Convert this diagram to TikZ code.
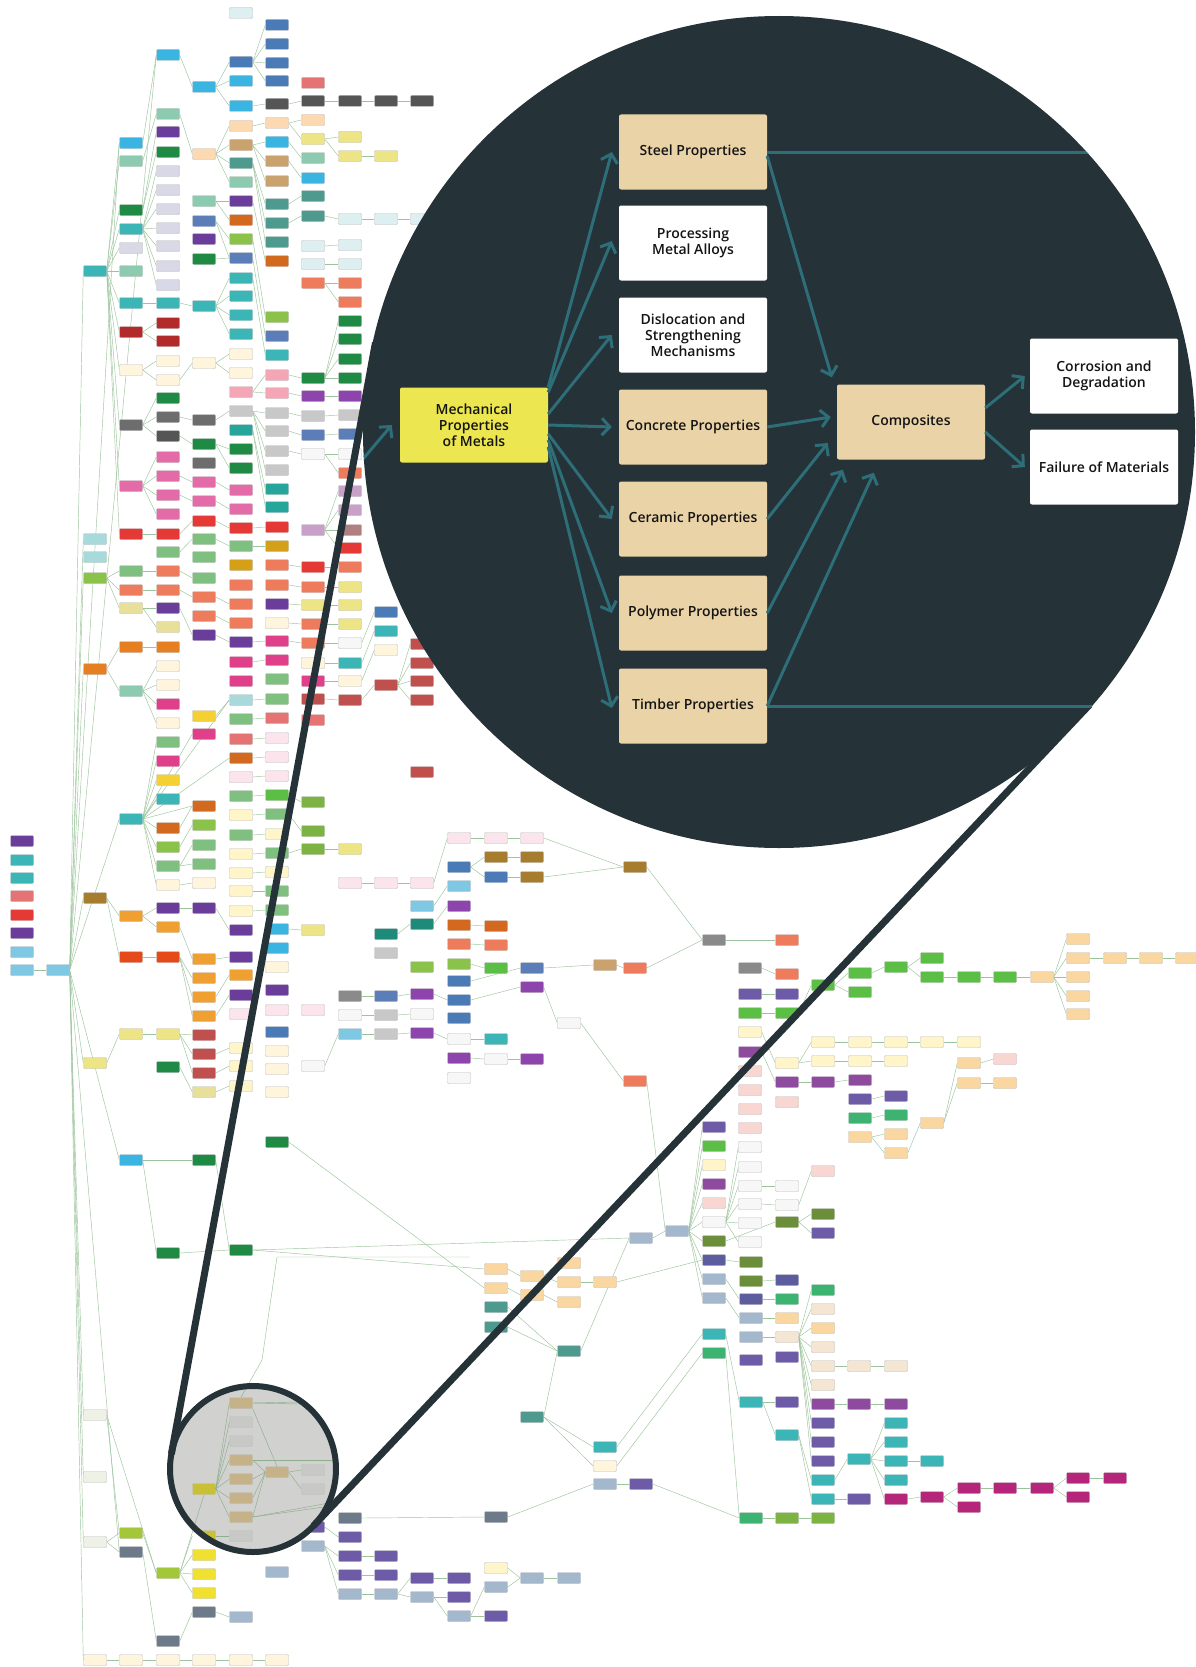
\documentclass[tikz,border=0pt]{standalone}
\usepackage{fontspec}
\setmainfont{Open Sans}
\IfFontExistsTF{Open Sans SemiBold}{\newfontfamily\boxfont{Open Sans SemiBold}}{%
 \IfFontExistsTF{Open Sans Semibold}{\newfontfamily\boxfont{Open Sans Semibold}}{%
  \newfontfamily\boxfont{Open Sans}[FakeBold=2.5]}}
\usetikzlibrary{arrows.meta}
\pgfdeclarelayer{bgl}
\pgfsetlayers{bgl,main}
\definecolor{cteal}{HTML}{3BB5B5}\definecolor{cteal2}{HTML}{26A69A}\definecolor{ccyan}{HTML}{3AB4E0}
\definecolor{cmint}{HTML}{8CCBB0}\definecolor{cdgreen}{HTML}{1E8A44}\definecolor{clav}{HTML}{D8D8E6}
\definecolor{cdred}{HTML}{B22A2A}\definecolor{ccream}{HTML}{FFF5DC}\definecolor{cgray}{HTML}{6D6D6D}
\definecolor{cdgray}{HTML}{555555}\definecolor{cpink}{HTML}{E36BA8}\definecolor{cred}{HTML}{E53935}
\definecolor{cpurple}{HTML}{6A3D9A}\definecolor{cpeach}{HTML}{FCD9B0}\definecolor{cslate}{HTML}{5B7DB8}
\definecolor{cltcyan}{HTML}{DDEFF0}\definecolor{cblue}{HTML}{4A7BB7}\definecolor{ctan}{HTML}{C9A26E}
\definecolor{ctgray}{HTML}{4E9A8E}\definecolor{cobrown}{HTML}{D2691E}\definecolor{clime}{HTML}{8BC34A}
\definecolor{cltpink}{HTML}{F4A6B6}\definecolor{clgray}{HTML}{C8C8C8}\definecolor{cylight}{HTML}{EDE585}
\definecolor{csalmon}{HTML}{EE7B5C}\definecolor{cmagenta}{HTML}{8E44AD}\definecolor{cwhite}{HTML}{F7F7F7}
\definecolor{cmauve}{HTML}{C9A0C8}\definecolor{crbrown}{HTML}{B07F7F}\definecolor{cgoldr}{HTML}{D4A017}
\definecolor{cmgreen}{HTML}{7FBF7F}\definecolor{cltteal}{HTML}{A8DADC}\definecolor{corange}{HTML}{E67E22}
\definecolor{cbgold}{HTML}{A67C2E}\definecolor{ckhaki}{HTML}{E8E09A}\definecolor{cmpink}{HTML}{E0408A}
\definecolor{cyellow}{HTML}{F5D033}\definecolor{cltblue}{HTML}{7EC8E3}\definecolor{cltpinkb}{HTML}{FCE4EC}
\definecolor{cycream}{HTML}{FFF5C8}\definecolor{cgmed}{HTML}{7CB342}\definecolor{csalmb}{HTML}{E57373}
\definecolor{crose}{HTML}{C0504D}\definecolor{corangeb}{HTML}{F0A030}\definecolor{credor}{HTML}{E64A19}
\definecolor{ctdark}{HTML}{1E8A7A}\definecolor{cgrayb}{HTML}{8A8A8A}\definecolor{cltgg}{HTML}{EEF2E6}
\definecolor{climeb}{HTML}{A4C639}\definecolor{csgray}{HTML}{6C7A89}\definecolor{cyelb}{HTML}{F0E130}
\definecolor{clsteel}{HTML}{A3B8CC}\definecolor{cpurpb}{HTML}{6E5BA8}\definecolor{cpslate}{HTML}{5C5C9E}
\definecolor{clpeach}{HTML}{FAD7A0}\definecolor{ccreamb}{HTML}{F5E6D3}\definecolor{cgteal}{HTML}{3CB371}
\definecolor{colive}{HTML}{6B8E3A}\definecolor{cmpurp}{HTML}{8E4A9E}\definecolor{cmagenb}{HTML}{B5267A}
\definecolor{cbgreen}{HTML}{5BBF45}\definecolor{cpinkl}{HTML}{F8D7D3}
\definecolor{edgec}{HTML}{9CC49C}\definecolor{nodeborder}{HTML}{BDBDBD}\definecolor{circdark}{HTML}{253238}
\definecolor{arrteal}{HTML}{2D6E79}\definecolor{btan}{HTML}{EBD3A8}\definecolor{byel}{HTML}{ECE651}
\definecolor{stan}{HTML}{C6B289}\definecolor{sgrayc}{HTML}{C8C8C6}\definecolor{syel}{HTML}{C9C037}
\definecolor{sdisc}{HTML}{D1D1CF}\definecolor{sedgec}{HTML}{8EAE8E}
\tikzset{
 bgn/.style={rectangle, rounded corners=1pt, minimum width=23pt, minimum height=11pt, inner sep=0pt, draw=nodeborder, line width=0.4pt},
 bge/.style={draw=edgec, line width=0.45pt},
 snode/.style={bgn, draw=black!25},
 sedge/.style={draw=sedgec, line width=0.45pt},
 bigbox/.style={rectangle, rounded corners=2pt, minimum width=148pt, minimum height=75pt, inner sep=2pt, align=center, font=\boxfont\fontsize{14}{16}\selectfont, text=black!92},
 zarr/.style={draw=arrteal, line width=3pt, -{Straight Barb[length=8pt,width=17pt]}},
 zline/.style={draw=arrteal, line width=3pt},
 magline/.style={draw=circdark, line width=7pt},
 ring/.style={draw=circdark, line width=6pt},
}
\newcommand\bgset[2]{\foreach \x/\y in {#2}{\node[bgn,fill=#1] (n\x-\y) at (\x,\y) {};}}
\newcommand\bgfan[2]{\foreach \t in {#2}{\draw[bge] (n#1.east) -- (n\t.west);}}
\begin{document}
\begin{tikzpicture}[x=1pt,y=-1pt]
\useasboundingbox (0,0) rectangle (1195,1667);
% ---------------- background nodes ----------------
\bgset{cteal}{95/271,131/229,131/303,168/303,204/306,241/278,241/296,241/315,241/334,277/355,22/860,22/878,168/799,131/819,350/663,386/631,496/1039,605/1447,714/1334,751/1402,787/1435,823/1480,823/1499,859/1459,896/1423,896/1442,896/1461,932/1461,896/1480}
\bgset{cteal2}{241/430,277/489,277/507}
\bgset{ccyan}{131/143,168/55,204/87,241/81,241/106,277/142,313/178,277/929,277/948,131/1160}
\bgset{cmint}{131/161,131/271,168/114,204/201,241/182,313/158,131/691}
\bgset{cdgreen}{131/210,168/152,168/398,204/259,204/444,241/449,241/468,313/378,350/321,350/339,350/359,350/378,168/1067,168/1253,204/1160,241/1250,277/1142}
\bgset{clav}{131/248,168/171,168/190,168/209,168/228,168/246,168/266,168/285}
\bgset{cdred}{131/332,168/323,168/341}
\bgset{ccream}{131/370,168/361,168/380,204/363,241/354,241/373,168/666,168/685,168/723,168/885,204/883,277/623,313/663,350/681,386/650,277/967,277/1051,277/1069,277/1092,95/1660,131/1660,168/1660,204/1660,241/1660,277/1660,605/1466}
\bgset{cgray}{131/425,168/417,204/420,204/463}
\bgset{cdgray}{168/436,277/104,313/101,350/101,386/101,422/101}
\bgset{cpink}{131/486,168/457,168/476,168/495,168/514,204/482,204/501,241/490,241/509}
\bgset{cred}{131/534,168/534,204/521,241/528,277/527,350/548,313/567,22/915}
\bgset{cpurple}{168/132,204/239,241/201,168/608,204/635,241/642,277/604,168/908,204/908,241/930,241/957,241/995,277/990,22/841,22/933}
\bgset{cpeach}{204/154,241/126,277/123,313/120}
\bgset{cslate}{204/221,241/258,277/336,313/435,350/434,386/996,532/968}
\bgset{cltcyan}{241/13,313/246,313/264,350/219,350/245,350/264,386/219,422/219}
\bgset{cblue}{241/62,277/25,277/44,277/63,277/81,386/612,277/1032,459/867,496/877,459/981,459/1000,459/1018}
\bgset{ctan}{241/145,277/161,277/181,605/965}
\bgset{ctgray}{241/163,277/204,277/223,277/242,313/196,313/216,496/1307,496/1327,569/1351,532/1417}
\bgset{cobrown}{241/220,277/261,168/828,204/806,241/758,459/925,496/926}
\bgset{clime}{241/239,277/317,95/578,168/847,204/825,422/967,459/964}
\bgset{cltpink}{241/392,277/375,277/393}
\bgset{clgray}{241/411,277/413,277/431,277/451,277/470,313/416,350/415,386/953,386/1015,386/1034}
\bgset{cylight}{313/139,350/137,350/156,386/156,313/605,350/587,350/605,350/624,313/930,350/849,95/1063,131/1034,168/1034}
\bgset{csalmon}{313/283,350/283,350/302,350/473,131/590,168/571,168/590,204/597,204/616,241/585,241/604,241/623,277/565,277/585,313/587,313/624,313/643,350/567,459/944,496/945,635/968,635/1081,787/940,787/974}
\bgset{cmagenta}{313/396,350/396,422/994,422/1033,459/906,459/1058,532/987,532/1059}
\bgset{cwhite}{313/454,350/454,350/643,350/1015,313/1066,422/1014,459/1039,459/1078,496/1059,569/1023,750/1147,750/1167,750/1186,750/1204,750/1223,750/1242,787/1186,787/1205,714/1222}
\bgset{cmauve}{313/530,350/491,350/510}
\bgset{crbrown}{350/530}
\bgset{cgoldr}{277/546,241/565}
\bgset{cmgreen}{168/552,204/539,204/557,241/546,131/571,204/578,168/742,168/866,204/845,204/864,241/719,241/796,241/835,277/679,277/699,277/814,277/853,277/891,277/910}
\bgset{cltteal}{95/539,95/557,241/700}
\bgset{corange}{95/669,131/647,168/647}
\bgset{cbgold}{95/898,496/857,532/857,532/877,635/867}
\bgset{ckhaki}{131/608,168/627,204/1092}
\bgset{cmpink}{168/704,168/761,204/734,241/662,241/681,277/641,277/660,313/681}
\bgset{cyellow}{168/780,204/716}
\bgset{cltblue}{22/952,22/970,58/970,350/1034,422/906,459/886}
\bgset{cltpinkb}{241/777,241/1014,277/738,277/757,277/776,277/1010,313/1010,350/883,386/883,422/883,459/838,496/838,532/838}
\bgset{cycream}{241/815,241/854,241/873,241/891,241/911,241/1048,241/1066,241/1086,277/834,277/872,496/1568,750/1032,787/1063,823/1042,823/1061,860/1042,860/1061,896/1042,896/1061,932/1042,969/1042,714/1165}
\bgset{cgmed}{313/802,313/831,313/849,787/1518,823/1518}
\bgset{csalmb}{313/83,22/896,241/739,277/718,313/720}
\bgset{crose}{204/1035,204/1054,204/1073,313/699,350/700,386/685,422/644,422/663,422/681,422/700,422/772}
\bgset{corangeb}{131/916,168/927,204/959,204/978,204/997,204/1016,241/975}
\bgset{credor}{131/957,168/957}
\bgset{ctdark}{386/934,422/924}
\bgset{cgrayb}{350/996,714/940,750/968}
\bgset{cltgg}{95/1415,95/1477,95/1542}
\bgset{climeb}{131/1533,168/1573}
\bgset{csgray}{131/1552,168/1641,204/1612,350/1518,496/1517}
\bgset{cyelb}{204/1555,204/1574,204/1593}
\bgset{clsteel}{241/1617,277/1572,313/1546,350/1594,386/1594,422/1597,459/1616,496/1587,532/1578,569/1578,605/1484,641/1238,677/1231,714/1279,714/1298,751/1318,751/1337}
\bgset{cpurpb}{313/1527,350/1537,350/1556,350/1575,386/1556,386/1575,422/1578,459/1578,459/1597,496/1616,641/1484,751/1360,787/1357,787/1402,823/1423,823/1442,823/1461,859/1499,750/994,787/994,714/1127,860/1099,896/1096,823/1233}
\bgset{cpslate}{714/1260,751/1299,787/1280}
\bgset{clpeach}{496/1269,496/1288,532/1276,532/1295,569/1263,569/1282,569/1302,605/1282,787/1318,823/1328,1042/977,1078/939,1078/958,1115/958,1151/958,1187/958,1078/977,1078/996,1078/1014,969/1063,969/1083,1005/1083,860/1137,896/1134,896/1153,932/1123}
\bgset{ccreamb}{787/1337,823/1309,823/1347,823/1366,859/1366,896/1366,823/1385}
\bgset{cgteal}{714/1353,751/1518,787/1299,823/1290,860/1118,896/1115}
\bgset{colive}{751/1262,751/1281,714/1241,787/1222,823/1214}
\bgset{cmpurp}{823/1404,859/1404,896/1404,750/1052,787/1082,823/1082,860/1080,714/1184}
\bgset{cmagenb}{896/1499,932/1497,969/1488,969/1507,1005/1488,1042/1488,1078/1478,1078/1497,1115/1478}
\bgset{cbgreen}{750/1013,787/1013,823/985,860/973,860/992,896/967,932/958,932/977,969/977,1005/977,714/1146,496/968,277/795}
\bgset{cpinkl}{750/1071,750/1090,750/1109,750/1128,787/1102,823/1171,1005/1059,714/1203}
% ---------------- small circle (lens) ----------------
\coordinate (sc) at (253,1469);
\fill[sdisc] (sc) circle (83pt);
\begin{scope}
\clip (sc) circle (83pt);
\node[snode,fill=stan] (ssteel) at (241,1403) {};
\node[snode,fill=sgrayc] (sproc) at (241,1422) {};
\node[snode,fill=sgrayc] (sdisl) at (241,1441) {};
\node[snode,fill=stan] (sconc) at (241,1460) {};
\node[snode,fill=stan] (scer) at (241,1479) {};
\node[snode,fill=stan] (spoly) at (241,1498) {};
\node[snode,fill=stan] (stimb) at (241,1517) {};
\node[snode,fill=sgrayc] (sphase) at (241,1536) {};
\node[snode,fill=syel] (smech) at (204,1489) {};
\node[snode,fill=syel] (syelb) at (204,1536) {};
\node[snode,fill=stan] (scomp) at (277,1472) {};
\node[snode,fill=sgrayc] (scorr) at (313,1470) {};
\node[snode,fill=sgrayc] (sfail) at (313,1489) {};
\coordinate (sx1) at (345,1401);
\coordinate (sx2) at (345,1405);
\coordinate (sx3) at (345,1460);
\coordinate (sx4) at (345,1500);
\coordinate (sx5) at (345,1504);
\coordinate (stop) at (262,1360);
\foreach \t in {ssteel,sproc,sdisl,sconc,scer,spoly,stimb} {\draw[sedge] (smech.east) -- (\t.west);}
\draw[sedge] (ssteel.south east) -- (scomp.north);
\foreach \t in {sconc,scer,spoly,stimb} {\draw[sedge] (\t.east) -- (scomp.west);}
\draw[sedge] (scomp.east) -- (scorr.west);
\draw[sedge] (scomp.east) -- (sfail.west);
\draw[sedge] (ssteel.east) -- (sx1);
\draw[sedge] (ssteel.east) -- (sx2);
\draw[sedge] (sconc.east) -- (sx3);
\draw[sedge] (stimb.east) -- (sx4);
\draw[sedge] (stimb.east) -- (sx5);
\draw[sedge] (syelb.east) -- (sphase.west);
\draw[sedge] (stop) -- (ssteel.north);
\draw[sedge] (n168-1573.east) -- (smech.south);
\draw[sedge] (n168-1573.east) -- (syelb.west);
\end{scope}
\draw[ring] (sc) circle (83pt);
% ---------------- background connectors ----------------
\begin{pgfonlayer}{bgl}
\fill[white] (0,0) rectangle (1195,1667);
\bgfan{95-271}{131-143,131-161,131-210,131-229,131-248,131-271,131-303,131-332,131-370,131-425,131-486,131-534}
\bgfan{58-970}{95-271,95-539,95-578,95-669,95-898,95-1063,95-1415,95-1477,95-1542,95-1660,131-1160,131-819,131-143,131-1552,168-55}
\bgfan{22-970}{58-970}\bgfan{131-143}{168-55}\bgfan{168-55}{204-87}\bgfan{204-87}{241-62,241-81,241-106}
\bgfan{241-62}{277-25,277-44,277-63,277-81}\bgfan{131-161}{168-114}\bgfan{131-210}{168-132,168-152}
\bgfan{131-229}{168-171,168-190,168-209,168-228,168-246,168-266,168-285}\bgfan{131-303}{168-303}\bgfan{168-303}{204-306}
\bgfan{204-306}{241-278,241-296,241-315,241-334}\bgfan{131-332}{168-323,168-341}\bgfan{131-370}{168-361,168-380}
\bgfan{168-380}{204-363}\bgfan{204-363}{241-354,241-373}\bgfan{131-425}{168-398,168-417,168-436}\bgfan{168-417}{204-420}
\bgfan{168-436}{204-444}\bgfan{204-420}{241-411}\bgfan{204-444}{241-449,241-468}\bgfan{131-486}{168-457,168-476,168-495,168-514}
\bgfan{168-476}{204-482}\bgfan{168-495}{204-501}\bgfan{204-482}{241-490}\bgfan{204-501}{241-509}\bgfan{131-534}{168-534}
\bgfan{168-534}{204-521}\bgfan{204-521}{241-528}\bgfan{241-528}{277-527}\bgfan{168-552}{204-539}\bgfan{204-539}{241-546}\bgfan{241-546}{277-546}
\bgfan{168-114}{204-154}\bgfan{204-154}{241-126,241-145,241-163,241-182}\bgfan{241-106}{277-104}\bgfan{277-104}{313-101}
\bgfan{313-101}{350-101}\bgfan{350-101}{386-101}\bgfan{386-101}{422-101}\bgfan{241-126}{277-123}\bgfan{277-123}{313-120,313-139}
\bgfan{313-139}{350-137,350-156}\bgfan{350-156}{386-156}\bgfan{241-145}{277-142,277-161,277-181}\bgfan{241-163}{277-204,277-223,277-242}
\bgfan{277-142}{313-158}\bgfan{277-161}{313-178}\bgfan{277-204}{313-196}\bgfan{277-223}{313-216}\bgfan{313-216}{350-219}\bgfan{350-219}{386-219}
\bgfan{386-219}{422-219}\bgfan{313-246}{350-245}\bgfan{313-264}{350-264}\bgfan{313-283}{350-283,350-302}\bgfan{204-201}{241-201,241-220}
\bgfan{204-221}{241-239,241-258}\bgfan{204-259}{241-258}\bgfan{241-201}{277-261}\bgfan{241-239}{277-317}\bgfan{241-258}{277-336}
\bgfan{241-278}{277-355}\bgfan{241-392}{277-375,277-393}\bgfan{241-411}{277-413,277-431,277-451,277-470}\bgfan{241-430}{277-489,277-507}
\bgfan{277-375}{313-378}\bgfan{277-393}{313-396}\bgfan{313-396}{350-396}\bgfan{277-413}{313-416}\bgfan{313-416}{350-415}\bgfan{277-431}{313-435}
\bgfan{313-435}{350-434}\bgfan{277-451}{313-454}\bgfan{313-454}{350-454,350-473}\bgfan{313-378}{350-321,350-339,350-359,350-378}
\bgfan{313-530}{350-491,350-510,350-530,350-548}\bgfan{95-578}{131-571,131-590,131-608}\bgfan{131-571}{168-571}\bgfan{131-590}{168-590}
\bgfan{168-590}{204-597}\bgfan{168-571}{204-578}\bgfan{204-597}{241-604}\bgfan{204-616}{241-623}\bgfan{131-608}{168-608,168-627}
\bgfan{168-608}{204-635}\bgfan{204-635}{241-642}\bgfan{95-669}{131-647,131-691}\bgfan{131-647}{168-647}
\bgfan{131-691}{168-666,168-685,168-704,168-723}\bgfan{131-819}{168-742,168-761,168-780,168-799,168-828,168-847,168-866,168-885,204-734,204-806,241-758,241-700}
\bgfan{168-828}{204-806}\bgfan{168-847}{204-825}\bgfan{168-866}{204-845,204-864}\bgfan{168-885}{204-883}\bgfan{95-898}{131-916,131-957}
\bgfan{131-916}{168-908,168-927}\bgfan{168-908}{204-908}\bgfan{204-908}{241-930}\bgfan{168-927}{204-959}\bgfan{204-959}{241-957}
\bgfan{131-957}{168-957}\bgfan{168-957}{204-978,204-997,204-1016}\bgfan{204-997}{241-975}\bgfan{204-1016}{241-995}\bgfan{95-1063}{131-1034}
\bgfan{131-1034}{168-1034}\bgfan{168-1034}{204-1035,204-1054,204-1073}\bgfan{204-1054}{241-1048}\bgfan{204-1073}{241-1066}
\bgfan{204-1092}{241-1086}\bgfan{168-1067}{204-1092}\bgfan{131-1160}{168-1253,204-1160}\bgfan{168-1253}{241-1250}\bgfan{95-1415}{131-1533,168-1573}
\bgfan{95-1542}{131-1533,131-1552}\bgfan{131-1533}{168-1573}\bgfan{131-1552}{168-1641}\bgfan{168-1641}{204-1612}\bgfan{204-1612}{241-1617}
\bgfan{168-1573}{204-1555,204-1574,204-1593}\bgfan{95-1660}{131-1660}\bgfan{131-1660}{168-1660}\bgfan{168-1660}{204-1660}
\bgfan{204-1660}{241-1660}\bgfan{241-1660}{277-1660}\bgfan{204-716}{241-700}\bgfan{241-642}{277-641}\bgfan{241-662}{277-660}
\bgfan{241-700}{277-699}\bgfan{241-719}{277-718}\bgfan{241-739}{277-738}\bgfan{241-758}{277-757}\bgfan{241-777}{277-776}\bgfan{241-796}{277-795}
\bgfan{241-815}{277-814}\bgfan{241-835}{277-834}\bgfan{241-854}{277-853}\bgfan{241-873}{277-872}\bgfan{241-891}{277-891}\bgfan{241-911}{277-910}
\bgfan{277-795}{313-802}\bgfan{277-814}{313-831}\bgfan{277-853}{313-849}\bgfan{313-849}{350-849}\bgfan{277-929}{313-930}
\bgfan{277-565}{313-567}\bgfan{277-585}{313-587}\bgfan{277-604}{313-605}\bgfan{277-623}{313-624}\bgfan{277-641}{313-643}
\bgfan{313-567}{350-567}\bgfan{313-587}{350-587}\bgfan{313-605}{350-605}\bgfan{313-624}{350-624}\bgfan{313-643}{350-643}\bgfan{313-663}{350-663}
\bgfan{313-681}{350-681}\bgfan{313-699}{350-700}\bgfan{350-700}{386-685}\bgfan{386-685}{422-644,422-663,422-681,422-700}
\bgfan{350-663}{386-631}\bgfan{350-681}{386-650}\bgfan{350-643}{386-612}\bgfan{350-883}{386-883}\bgfan{386-883}{422-883}\bgfan{422-883}{459-838}
\bgfan{459-838}{496-838}\bgfan{496-838}{532-838}\bgfan{459-867}{496-857,496-877}\bgfan{496-857}{532-857}\bgfan{496-877}{532-877}
\bgfan{532-877}{635-867}\bgfan{386-934}{422-924}\bgfan{422-906}{459-886}\bgfan{422-924}{459-906}\bgfan{459-925}{496-926}\bgfan{459-944}{496-945}
\bgfan{459-964}{496-968}\bgfan{532-968}{605-965}\bgfan{605-965}{635-968}\bgfan{459-981}{532-968}\bgfan{459-1000}{532-987}\bgfan{532-987}{569-1023}
\bgfan{459-1039}{496-1039}\bgfan{459-1058}{496-1059}\bgfan{496-1059}{532-1059}\bgfan{350-996}{386-996}\bgfan{386-996}{422-994}
\bgfan{350-1015}{386-1015}\bgfan{386-1015}{422-1014}\bgfan{350-1034}{386-1034}\bgfan{386-1034}{422-1033}
\bgfan{714-940}{787-940}\bgfan{750-968}{787-974}\bgfan{750-994}{787-994}\bgfan{750-1013}{787-1013}\bgfan{787-1013}{823-985}
\bgfan{823-985}{860-973,860-992}\bgfan{860-973}{896-967}\bgfan{896-967}{932-958,932-977}\bgfan{932-977}{969-977}\bgfan{969-977}{1005-977}
\bgfan{1005-977}{1042-977}\bgfan{1042-977}{1078-939,1078-958,1078-977,1078-996,1078-1014}\bgfan{1078-958}{1115-958}
\bgfan{1115-958}{1151-958}\bgfan{1151-958}{1187-958}\bgfan{750-1032}{787-1063}\bgfan{787-1063}{823-1042,823-1061}\bgfan{823-1042}{860-1042}
\bgfan{860-1042}{896-1042}\bgfan{896-1042}{932-1042}\bgfan{932-1042}{969-1042}\bgfan{823-1061}{860-1061}\bgfan{860-1061}{896-1061}
\bgfan{750-1052}{787-1082}\bgfan{787-1082}{823-1082}\bgfan{823-1082}{860-1080}\bgfan{896-1153}{932-1123}\bgfan{932-1123}{969-1063,969-1083}
\bgfan{969-1063}{1005-1059}\bgfan{969-1083}{1005-1083}\bgfan{860-1099}{896-1096}\bgfan{860-1118}{896-1115}\bgfan{860-1137}{896-1134,896-1153}
\bgfan{641-1238}{677-1231}\bgfan{677-1231}{714-1127,714-1146,714-1165,714-1184,714-1203,714-1222,714-1241,714-1260,714-1279,714-1298}
\bgfan{714-1222}{750-1147,750-1167,750-1186,750-1204,750-1223,750-1242}\bgfan{750-1186}{787-1186}\bgfan{750-1204}{787-1205}
\bgfan{787-1205}{823-1171}\bgfan{787-1222}{823-1214,823-1233}\bgfan{714-1241}{787-1222}\bgfan{714-1260}{751-1262}\bgfan{714-1279}{751-1299}
\bgfan{714-1298}{751-1318}\bgfan{751-1299}{787-1299}\bgfan{751-1318}{787-1318}\bgfan{751-1337}{787-1337}\bgfan{751-1281}{787-1280}
\bgfan{787-1337}{823-1290,823-1309,823-1328,823-1347,823-1366,823-1385,823-1404,823-1423,823-1442,823-1461}
\bgfan{823-1366}{859-1366}\bgfan{859-1366}{896-1366}\bgfan{823-1404}{859-1404}\bgfan{859-1404}{896-1404}\bgfan{714-1334}{751-1402}
\bgfan{751-1402}{787-1402,787-1435}\bgfan{787-1435}{823-1480,823-1499}\bgfan{823-1480}{859-1459}
\bgfan{859-1459}{896-1423,896-1442,896-1461,896-1480,896-1499}\bgfan{896-1461}{932-1461}\bgfan{896-1499}{932-1497}
\bgfan{932-1497}{969-1488,969-1507}\bgfan{969-1488}{1005-1488}\bgfan{1005-1488}{1042-1488}\bgfan{1042-1488}{1078-1478,1078-1497}
\bgfan{1078-1478}{1115-1478}\bgfan{823-1499}{859-1499}\bgfan{714-1353}{751-1518}\bgfan{751-1518}{787-1518}\bgfan{787-1518}{823-1518}
\bgfan{496-1269}{532-1276}\bgfan{496-1288}{532-1295}\bgfan{532-1276}{569-1263,569-1282}\bgfan{532-1295}{569-1302}\bgfan{569-1282}{605-1282}
\bgfan{496-1307}{569-1351}\bgfan{496-1327}{569-1351}\bgfan{532-1417}{569-1351}\bgfan{350-1518}{496-1517}
\bgfan{313-1546}{350-1556,350-1575,350-1594}\bgfan{313-1527}{350-1537}\bgfan{350-1556}{386-1556}\bgfan{350-1575}{386-1575}
\bgfan{350-1594}{386-1594}\bgfan{386-1594}{422-1578,422-1597}\bgfan{422-1578}{459-1578}\bgfan{422-1597}{459-1597,459-1616}
\bgfan{459-1616}{496-1616,496-1587}\bgfan{496-1587}{532-1578}\bgfan{532-1578}{569-1578}\bgfan{605-1484}{641-1484}\bgfan{496-1568}{532-1578}
\bgfan{532-1417}{605-1447,605-1466}
\bgfan{241-1250}{496-1269,641-1238}\bgfan{204-1160}{241-1250}\bgfan{313-1066}{350-1034}\bgfan{569-1023}{635-1081}
\bgfan{635-968}{714-940}\bgfan{635-867}{714-940}\bgfan{635-1081}{677-1231}\bgfan{532-838}{635-867}\bgfan{422-1033}{459-1039}
\bgfan{422-994}{459-1000}\bgfan{605-1282}{714-1260}\bgfan{605-1447}{714-1334}\bgfan{605-1466}{714-1353}\bgfan{641-1484}{751-1518}
\bgfan{496-1517}{605-1484}\bgfan{569-1351}{641-1238}\bgfan{277-1142}{496-1288}
\draw[bge] (n168-1573.east) -- (smech.south);
\draw[bge] (n168-1573.east) -- (syelb.west);
\draw[bge] (ssteel.north) -- (stop) -- (277,1257) -- (470,1257);
\end{pgfonlayer}
% ---------------- magnifier lines ----------------
\coordinate (tla) at (171.4,1454.0);
\coordinate (tlb) at (375.5,342.6);
\coordinate (tra) at (313.3,1526.0);
\coordinate (trb) at (1089.4,704.9);
\draw[magline] (tla) -- (tlb);
\draw[magline] (tra) -- (trb);
% ---------------- big circle ----------------
\coordinate (bc) at (779,432);
\fill[circdark] (bc) circle (416pt);
\begin{scope}
\clip (bc) circle (416pt);
\node[bigbox,fill=btan] (steel) at (693,152) {Steel Properties};
\node[bigbox,fill=white] (proc) at (693,243) {Processing\\Metal Alloys};
\node[bigbox,fill=white] (disl) at (693,335) {Dislocation and\\Strengthening\\Mechanisms};
\node[bigbox,fill=btan] (conc) at (693,427) {Concrete Properties};
\node[bigbox,fill=btan] (cer) at (693,519) {Ceramic Properties};
\node[bigbox,fill=btan] (poly) at (693,613) {Polymer Properties};
\node[bigbox,fill=btan] (timb) at (693,706) {Timber Properties};
\node[bigbox,fill=byel] (mech) at (474,425) {Mechanical\\Properties\\of Metals};
\node[bigbox,fill=btan] (comp) at (911,422) {Composites};
\node[bigbox,fill=white] (corr) at (1104,376) {Corrosion and\\Degradation};
\node[bigbox,fill=white] (fail) at (1104,467) {Failure of Materials};
\coordinate (inl) at (352,472);
\coordinate (steelr) at (1200,152);
\coordinate (timbr) at (1200,706);
\draw[zarr] (inl) -- ([xshift=-8pt]mech.west);
\draw[zarr] (mech.north east) -- ([xshift=-7pt]steel.west);
\draw[zarr] ([yshift=-5pt]mech.north east) -- ([xshift=-7pt,yshift=2pt]proc.west);
\draw[zarr] ([yshift=11pt]mech.east) -- ([xshift=-7pt]disl.west);
\draw[zarr] (mech.east) -- ([xshift=-7pt]conc.west);
\draw[zarr] ([yshift=-9pt]mech.east) -- ([xshift=-7pt]cer.west);
\draw[zarr] ([yshift=-15pt]mech.east) -- ([xshift=-7pt]poly.west);
\draw[zarr] ([yshift=-22pt]mech.east) -- ([xshift=-7pt,yshift=-2pt]timb.west);
\draw[zarr] ([yshift=-4pt]steel.east) -- ([xshift=-5pt,yshift=7pt]comp.north west);
\draw[zarr] (conc.east) -- ([xshift=-6pt,yshift=5pt]comp.west);
\draw[zarr] (cer.east) -- ([xshift=-9pt,yshift=-21pt]comp.west);
\draw[zarr] (poly.east) -- ([xshift=6pt,yshift=-10pt]comp.south west);
\draw[zarr] (timb.east) -- ([xshift=37pt,yshift=-13pt]comp.south west);
\draw[zarr] ([yshift=14pt]comp.east) -- ([xshift=-5pt]corr.west);
\draw[zarr] ([yshift=-10pt]comp.east) -- ([xshift=-5pt]fail.west);
\draw[zline] (steel.east) -- (steelr);
\draw[zline] (timb.east) -- (timbr);
\end{scope}
\end{tikzpicture}
\end{document}
